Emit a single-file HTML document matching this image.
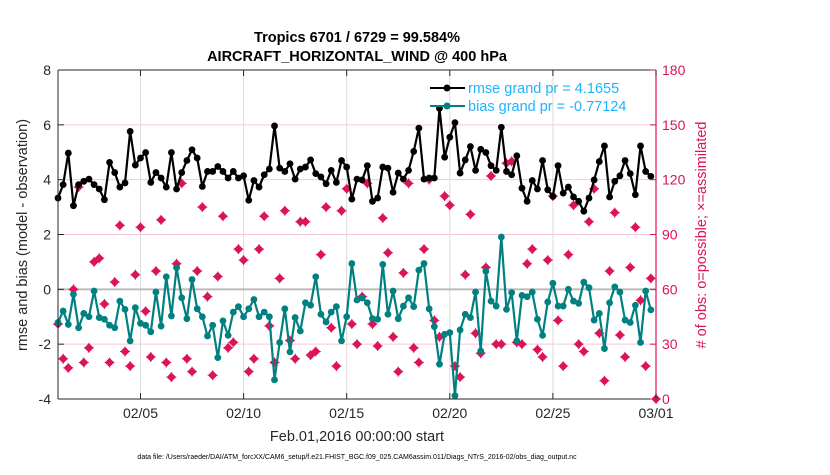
<!DOCTYPE html>
<html><head><meta charset="utf-8"><style>
body{margin:0;background:#fff;width:830px;height:470px;overflow:hidden;font-family:"Liberation Sans",sans-serif}
svg text{font-family:"Liberation Sans",sans-serif}
</style></head><body>
<svg id="chart" width="830" height="470" xmlns="http://www.w3.org/2000/svg">
<g id="grid"></g>
<g id="marks"></g>
<g id="axes"></g>
<text x="357" y="42" font-size="14.5" font-weight="bold" text-anchor="middle">Tropics 6701 / 6729 = 99.584%</text>
<text x="357" y="61" font-size="14.5" font-weight="bold" text-anchor="middle">AIRCRAFT_HORIZONTAL_WIND @ 400 hPa</text>
<text x="357" y="441" font-size="14.5" text-anchor="middle" fill="#262626">Feb.01,2016 00:00:00 start</text>
<text x="357" y="459" font-size="7" text-anchor="middle" fill="#000">data file: /Users/raeder/DAI/ATM_forcXX/CAM6_setup/f.e21.FHIST_BGC.f09_025.CAM6assim.011/Diags_NTrS_2016-02/obs_diag_output.nc</text>
<text transform="translate(27,235) rotate(-90)" font-size="14.5" text-anchor="middle" fill="#262626">rmse and bias (model - observation)</text>
<text transform="translate(706,235) rotate(-90)" font-size="14.5" text-anchor="middle" fill="#DB1457"># of obs: o=possible; ×=assimilated</text>
<g>
<line x1="430" y1="88" x2="465" y2="88" stroke="#000" stroke-width="2"/><circle cx="447" cy="88" r="3.5" fill="#000"/>
<text x="468" y="93" font-size="14.5" fill="#1EB4FF">rmse grand pr = 4.1655</text>
<line x1="430" y1="106" x2="465" y2="106" stroke="#008080" stroke-width="2"/><circle cx="447" cy="106" r="3.5" fill="#008080"/>
<text x="468" y="111" font-size="14.5" fill="#1EB4FF">bias grand pr = -0.77124</text>
</g>
</svg>
<script>
const rmse=[3.33,3.82,4.97,3.05,3.82,3.94,4.02,3.82,3.66,3.27,4.63,4.26,3.73,3.88,5.76,4.53,4.79,4.99,3.90,4.26,4.06,3.73,4.99,3.66,4.26,4.70,5.09,4.79,3.75,4.30,
4.30,4.48,4.30,4.06,4.30,4.06,4.14,3.25,3.97,3.73,4.18,4.39,5.96,4.42,4.30,4.58,4.02,4.39,4.46,4.72,4.22,4.10,3.85,4.34,3.90,4.70,4.46,3.29,4.02,
3.99,4.51,3.21,3.33,4.46,4.42,3.54,4.24,4.02,4.34,5.03,5.88,4.02,4.06,4.06,6.60,4.82,5.55,6.08,4.24,4.72,5.21,4.34,5.11,4.99,4.51,4.34,5.91,4.30,
4.18,4.87,3.69,3.21,3.97,3.66,4.70,3.63,3.39,4.51,3.51,3.73,3.37,3.21,2.85,3.33,3.99,4.66,5.23,3.37,3.94,4.14,4.70,4.22,3.45,5.23,4.30,4.12];
const bias=[-1.21,-0.79,-1.28,-0.18,-1.40,-0.88,-1.00,-0.06,-1.03,-1.09,-1.31,-1.40,-0.43,-0.73,-1.88,-0.67,-1.24,-1.31,-1.55,-0.10,-1.34,0.46,-0.97,0.79,-0.31,-1.07,0.36,-0.71,-1.00,-1.70,
-1.31,-2.49,-1.15,-1.68,-0.83,-0.63,-1.00,-0.71,-0.37,-1.00,-0.83,-1.00,-3.30,-1.94,-0.71,-2.28,-1.03,-1.52,-0.49,-0.58,0.46,-0.91,-1.19,-0.83,-0.63,-1.88,-1.00,0.94,-0.39,
-0.31,-0.49,-1.07,-1.09,0.91,-0.91,-0.06,-1.07,-0.61,-0.31,-0.63,0.70,0.94,-0.71,-1.36,-2.73,-1.64,-1.58,-3.88,-1.48,-0.91,-1.03,-0.10,-2.25,0.66,-0.43,-0.61,1.91,-0.73,
-0.12,-1.88,-0.22,-0.27,-0.10,-1.09,-1.68,-0.46,0.22,-0.61,-0.61,0.00,-0.43,-0.51,0.26,0.06,-1.12,-0.88,-2.16,-0.49,0.09,-0.10,-1.12,-1.21,-0.58,-1.94,-0.06,-0.75];
const nobs=[41,22,17,60,116,20,28,75,77,52,20,64,95,26,18,68,94,48,23,70,98,20,12,74,118,22,15,70,105,56,
13,67,100,28,31,82,76,15,22,82,100,40,20,66,103,32,22,97,97,24,26,79,105,39,18,103,115,41,30,
56,118,41,29,99,80,34,15,69,118,28,20,82,120,43,34,111,106,18,12,68,101,36,25,72,122,30,30,129,
130,31,30,74,82,27,23,76,111,43,18,79,106,30,26,97,115,36,10,70,102,35,23,72,94,54,18,66,0];
const xTickLabels=["02/05","02/10","02/15","02/20","02/25","03/01"];
const xTickDays=[4,9,14,19,24,29];
const yLeftTicks=[-4,-2,0,2,4,6,8];
const yRightTicks=[0,30,60,90,120,150,180];
const stepDays=0.25;

const L=58,R=656,T=70,B=399;
const OBSC='#DB1457';
const xs=d=>L+d/29*(R-L);
const yl=v=>B-(v+4)/12*(B-T);
const yr=v=>B-v/180*(B-T);
const NS="http://www.w3.org/2000/svg";
function mk(tag,attrs,parent){const e=document.createElementNS(NS,tag);for(const k in attrs)e.setAttribute(k,attrs[k]);parent.appendChild(e);return e;}
const grid=document.getElementById('grid'),marks=document.getElementById('marks'),axes=document.getElementById('axes');

yLeftTicks.forEach(v=>{if(v!==-4&&v!==8&&v!==0){const g=mk('line',{x1:L,x2:R,y1:yl(v),y2:yl(v),stroke:'#F7C6DA','stroke-width':1},grid);

}});
xTickDays.forEach(d=>{const g=mk('line',{x1:xs(d),x2:xs(d),y1:T,y2:B,stroke:'#DCDCDC','stroke-width':1},grid);

});
const z=mk('line',{x1:L,x2:R,y1:yl(0),y2:yl(0),stroke:'#BBBBBB','stroke-width':2},grid);



nobs.forEach((n,i)=>{const x=xs(i*stepDays),y=yr(n);
const p=mk('path',{d:`M${x} ${y-4}L${x+4} ${y}L${x} ${y+4}L${x-4} ${y}Z M${x-5} ${y}H${x+5} M${x} ${y-5}V${y+5}`,fill:OBSC,stroke:OBSC,'stroke-width':1},marks);

});

function series(arr,color,name){
const pts=arr.map((v,i)=>xs(i*stepDays)+','+yl(v)).join(' ');
const pl=mk('polyline',{points:pts,fill:'none',stroke:color,'stroke-width':2.2,'stroke-linejoin':'round'},marks);


arr.forEach((v,i)=>{const c=mk('circle',{cx:xs(i*stepDays),cy:yl(v),r:3.4,fill:color},marks);

});}
series(bias,'#008080','bias');
series(rmse,'#000000','rmse');

mk('line',{x1:L,x2:R,y1:T,y2:T,stroke:'#262626','stroke-width':1},axes);
mk('line',{x1:L,x2:R,y1:B,y2:B,stroke:'#262626','stroke-width':1},axes);
mk('line',{x1:L,x2:L,y1:T,y2:B,stroke:'#262626','stroke-width':1},axes);
mk('line',{x1:R,x2:R,y1:T,y2:B,stroke:OBSC,'stroke-width':1.2},axes);
xTickDays.forEach((d,i)=>{
mk('line',{x1:xs(d),x2:xs(d),y1:B,y2:B-6,stroke:'#262626'},axes);
mk('line',{x1:xs(d),x2:xs(d),y1:T,y2:T+6,stroke:'#262626'},axes);
const t=mk('text',{x:xs(d),y:B+19,'font-size':14,'text-anchor':'middle',fill:'#262626'},axes);t.textContent=xTickLabels[i];

});
yLeftTicks.forEach(v=>{
mk('line',{x1:L,x2:L+6,y1:yl(v),y2:yl(v),stroke:'#262626'},axes);
const t=mk('text',{x:L-7,y:yl(v)+5,'font-size':14,'text-anchor':'end',fill:'#262626'},axes);t.textContent=v;

});
yRightTicks.forEach(v=>{
mk('line',{x1:R-6,x2:R,y1:yr(v),y2:yr(v),stroke:OBSC},axes);
const t=mk('text',{x:R+6,y:yr(v)+5,'font-size':14,'text-anchor':'start',fill:OBSC},axes);t.textContent=v;

});
</script>
</body></html>
